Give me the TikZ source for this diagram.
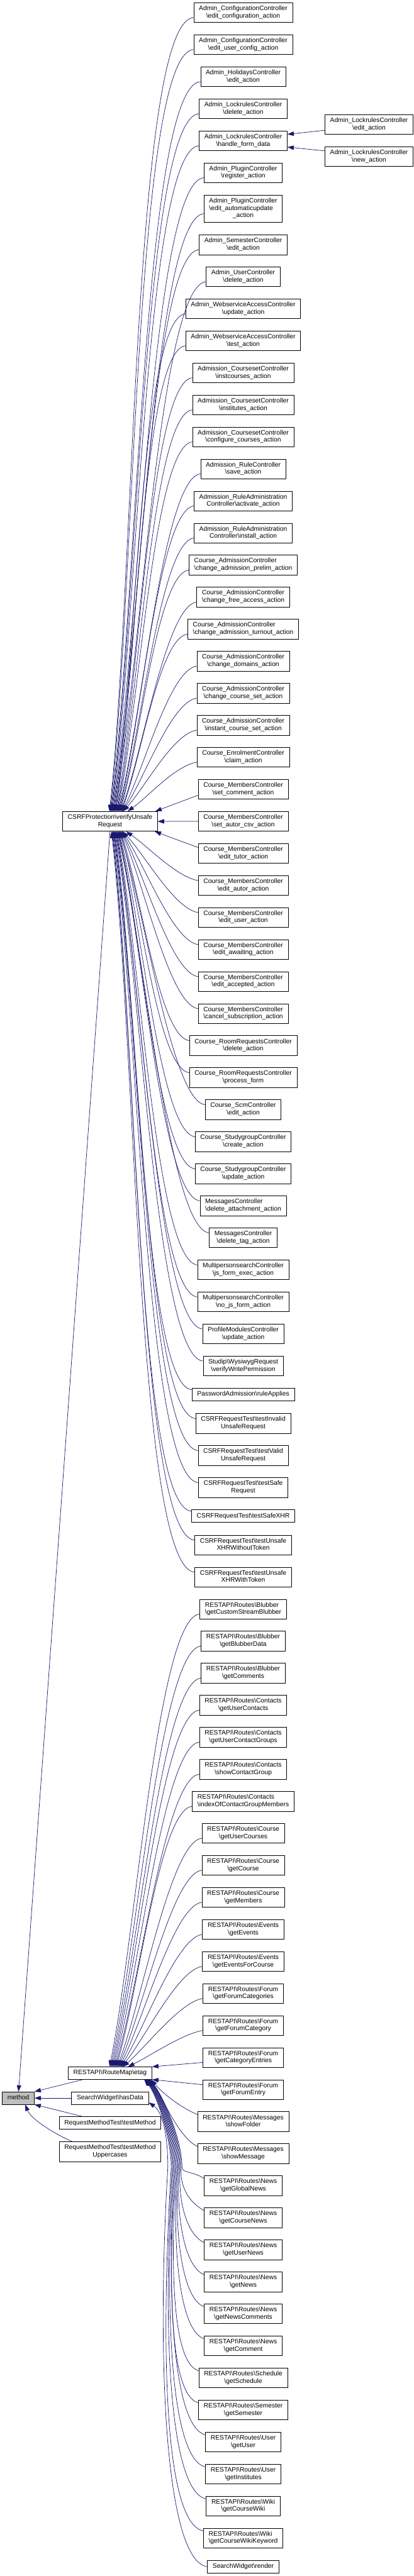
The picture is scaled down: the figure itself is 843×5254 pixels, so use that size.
\documentclass[tikz,border=0pt]{standalone}
\usepackage{fontspec}
\setmainfont{Liberation Sans}
\usetikzlibrary{arrows.meta,calc}
\definecolor{edgecol}{HTML}{191970}
\definecolor{nodegray}{HTML}{BFBFBF}
\newcommand\bs{\textbackslash}
\newcommand\TwoL[2]{\begin{tabular}{@{}l@{}}#1\\\multicolumn{1}{@{}c@{}}{#2}\end{tabular}}
\newcommand\ThreeL[3]{\begin{tabular}{@{}l@{}}#1\\#2\\\multicolumn{1}{@{}c@{}}{#3}\end{tabular}}
\newcommand\OneL[1]{\begin{tabular}{@{}c@{}}#1\end{tabular}}
\newcommand\CsrfUp[2]{%
  \path ($(#1.west)+(0,10)$) coordinate (s) ($(csrf.north west)+(#2,0)$) coordinate (e);
  \draw[conn] (s) .. controls ($(s)!0.05!-90:(s|-e)+(-40,8)$) and ($(e)!0.3!(s)$) .. (e);}
\newcommand\CsrfDown[2]{%
  \path ($(#1.west)+(0,-10)$) coordinate (s) ($(csrf.south west)+(#2,0)$) coordinate (e);
  \draw[conn] (s) .. controls ($(s)!0.05!90:(s|-e)+(-40,-8)$) and ($(e)!0.3!(s)$) .. (e);}
\newcommand\EtagUp[2]{%
  \path ($(#1.west)+(0,10)$) coordinate (s) ($(etag.north west)+(#2,0)$) coordinate (e);
  \draw[conn] (s) .. controls ($(s)!0.05!-90:(s|-e)+(-40,8)$) and ($(e)!0.3!(s)$) .. (e);}
\newcommand\EtagDown[4]{%
  \path ($(#1.north west)+(0,6)$) coordinate (s) ($(etag.south east)+(#2,0)$) coordinate (e)
        ($(etag.south east)+(#3,179)$) coordinate (w);
  \draw[conn] (s) .. controls +({-(20+0.08*#4)},-15) and ($(w)+({-0.03*#4},{0.5*#4})$) .. (w)
        .. controls +(0,-60) and +(25,30) .. (e);}
\begin{document}
\begin{tikzpicture}[x=1pt,y=-1pt,
  nbox/.style={draw=black,line width=0.9pt,fill=white,rectangle,inner xsep=10.5pt,inner ysep=0pt,
     font=\fontsize{13.2}{15}\selectfont},
  nbox1/.style={nbox,minimum height=25.3pt},
  nbox2/.style={nbox,minimum height=40.3pt},
  nbox3/.style={nbox,minimum height=55pt},
  conn/.style={draw=edgecol,line width=0.9pt,-{Triangle[length=13pt,width=9pt]}}]
\useasboundingbox (0,0) rectangle (843,5254);
\fill[white] (0,0) rectangle (843,5254);
% column 3
\node[nbox2] (r0) at (495.8,25.8) {\TwoL{Admin\_ConfigurationController}{\bs edit\_configuration\_action}};
\node[nbox2] (r1) at (495.8,91.0) {\TwoL{Admin\_ConfigurationController}{\bs edit\_user\_config\_action}};
\node[nbox2] (r2) at (495.8,156.5) {\TwoL{Admin\_HolidaysController}{\bs edit\_action}};
\node[nbox2] (r3) at (495.8,221.8) {\TwoL{Admin\_LockrulesController}{\bs delete\_action}};
\node[nbox2] (r4) at (495.8,287.2) {\TwoL{Admin\_LockrulesController}{\bs handle\_form\_data}};
\node[nbox2] (r5) at (495.8,352.5) {\TwoL{Admin\_PluginController}{\bs register\_action}};
\node[nbox3] (r6) at (495.8,425.8) {\ThreeL{Admin\_PluginController}{\bs edit\_automaticupdate}{\_action}};
\node[nbox2] (r7) at (495.8,499.2) {\TwoL{Admin\_SemesterController}{\bs edit\_action}};
\node[nbox2] (r8) at (495.8,564.5) {\TwoL{Admin\_UserController}{\bs delete\_action}};
\node[nbox2] (r9) at (495.8,629.9) {\TwoL{Admin\_WebserviceAccessController}{\bs update\_action}};
\node[nbox2] (r10) at (495.8,695.2) {\TwoL{Admin\_WebserviceAccessController}{\bs test\_action}};
\node[nbox2] (r11) at (495.8,760.5) {\TwoL{Admission\_CoursesetController}{\bs instcourses\_action}};
\node[nbox2] (r12) at (495.8,825.9) {\TwoL{Admission\_CoursesetController}{\bs institutes\_action}};
\node[nbox2] (r13) at (495.8,891.2) {\TwoL{Admission\_CoursesetController}{\bs configure\_courses\_action}};
\node[nbox2] (r14) at (495.8,956.5) {\TwoL{Admission\_RuleController}{\bs save\_action}};
\node[nbox2] (r15) at (495.8,1021.9) {\TwoL{Admission\_RuleAdministration}{Controller\bs activate\_action}};
\node[nbox2] (r16) at (495.8,1087.2) {\TwoL{Admission\_RuleAdministration}{Controller\bs install\_action}};
\node[nbox2] (r17) at (495.8,1152.5) {\TwoL{Course\_AdmissionController}{\bs change\_admission\_prelim\_action}};
\node[nbox2] (r18) at (495.8,1217.9) {\TwoL{Course\_AdmissionController}{\bs change\_free\_access\_action}};
\node[nbox2] (r19) at (495.8,1283.2) {\TwoL{Course\_AdmissionController}{\bs change\_admission\_turnout\_action}};
\node[nbox2] (r20) at (495.8,1348.5) {\TwoL{Course\_AdmissionController}{\bs change\_domains\_action}};
\node[nbox2] (r21) at (495.8,1413.9) {\TwoL{Course\_AdmissionController}{\bs change\_course\_set\_action}};
\node[nbox2] (r22) at (495.8,1479.2) {\TwoL{Course\_AdmissionController}{\bs instant\_course\_set\_action}};
\node[nbox2] (r23) at (495.8,1544.5) {\TwoL{Course\_EnrolmentController}{\bs claim\_action}};
\node[nbox2] (r24) at (495.8,1609.9) {\TwoL{Course\_MembersController}{\bs set\_comment\_action}};
\node[nbox2] (r25) at (495.8,1675.2) {\TwoL{Course\_MembersController}{\bs set\_autor\_csv\_action}};
\node[nbox2] (r26) at (495.8,1740.5) {\TwoL{Course\_MembersController}{\bs edit\_tutor\_action}};
\node[nbox2] (r27) at (495.8,1805.9) {\TwoL{Course\_MembersController}{\bs edit\_autor\_action}};
\node[nbox2] (r28) at (495.8,1871.2) {\TwoL{Course\_MembersController}{\bs edit\_user\_action}};
\node[nbox2] (r29) at (495.8,1936.5) {\TwoL{Course\_MembersController}{\bs edit\_awaiting\_action}};
\node[nbox2] (r30) at (495.8,2001.9) {\TwoL{Course\_MembersController}{\bs edit\_accepted\_action}};
\node[nbox2] (r31) at (495.8,2067.2) {\TwoL{Course\_MembersController}{\bs cancel\_subscription\_action}};
\node[nbox2] (r32) at (495.8,2132.5) {\TwoL{Course\_RoomRequestsController}{\bs delete\_action}};
\node[nbox2] (r33) at (495.8,2197.9) {\TwoL{Course\_RoomRequestsController}{\bs process\_form}};
\node[nbox2] (r34) at (495.8,2263.2) {\TwoL{Course\_ScmController}{\bs edit\_action}};
\node[nbox2] (r35) at (495.8,2328.5) {\TwoL{Course\_StudygroupController}{\bs create\_action}};
\node[nbox2] (r36) at (495.8,2393.9) {\TwoL{Course\_StudygroupController}{\bs update\_action}};
\node[nbox2] (r37) at (495.8,2459.2) {\TwoL{MessagesController}{\bs delete\_attachment\_action}};
\node[nbox2] (r38) at (495.8,2524.5) {\TwoL{MessagesController}{\bs delete\_tag\_action}};
\node[nbox2] (r39) at (495.8,2589.9) {\TwoL{MultipersonsearchController}{\bs js\_form\_exec\_action}};
\node[nbox2] (r40) at (495.8,2655.2) {\TwoL{MultipersonsearchController}{\bs no\_js\_form\_action}};
\node[nbox2] (r41) at (495.8,2720.5) {\TwoL{ProfileModulesController}{\bs update\_action}};
\node[nbox2] (r42) at (495.8,2785.9) {\TwoL{Studip\bs WysiwygRequest}{\bs verifyWritePermission}};
\node[nbox1] (r43) at (495.8,2844.5) {\OneL{PasswordAdmission\bs ruleApplies}};
\node[nbox2] (r44) at (495.8,2903.2) {\TwoL{CSRFRequestTest\bs testInvalid}{UnsafeRequest}};
\node[nbox2] (r45) at (495.8,2968.5) {\TwoL{CSRFRequestTest\bs testValid}{UnsafeRequest}};
\node[nbox2] (r46) at (495.8,3033.9) {\TwoL{CSRFRequestTest\bs testSafe}{Request}};
\node[nbox1] (r47) at (495.8,3092.2) {\OneL{CSRFRequestTest\bs testSafeXHR}};
\node[nbox2] (r48) at (495.8,3151.2) {\TwoL{CSRFRequestTest\bs testUnsafe}{XHRWithoutToken}};
\node[nbox2] (r49) at (495.8,3216.5) {\TwoL{CSRFRequestTest\bs testUnsafe}{XHRWithToken}};
\node[nbox2] (r50) at (495.8,3281.9) {\TwoL{RESTAPI\bs Routes\bs Blubber}{\bs getCustomStreamBlubber}};
\node[nbox2] (r51) at (495.8,3347.2) {\TwoL{RESTAPI\bs Routes\bs Blubber}{\bs getBlubberData}};
\node[nbox2] (r52) at (495.8,3412.5) {\TwoL{RESTAPI\bs Routes\bs Blubber}{\bs getComments}};
\node[nbox2] (r53) at (495.8,3477.9) {\TwoL{RESTAPI\bs Routes\bs Contacts}{\bs getUserContacts}};
\node[nbox2] (r54) at (495.8,3543.2) {\TwoL{RESTAPI\bs Routes\bs Contacts}{\bs getUserContactGroups}};
\node[nbox2] (r55) at (495.8,3608.5) {\TwoL{RESTAPI\bs Routes\bs Contacts}{\bs showContactGroup}};
\node[nbox2] (r56) at (495.8,3673.9) {\TwoL{RESTAPI\bs Routes\bs Contacts}{\bs indexOfContactGroupMembers}};
\node[nbox2] (r57) at (495.8,3739.2) {\TwoL{RESTAPI\bs Routes\bs Course}{\bs getUserCourses}};
\node[nbox2] (r58) at (495.8,3804.5) {\TwoL{RESTAPI\bs Routes\bs Course}{\bs getCourse}};
\node[nbox2] (r59) at (495.8,3869.9) {\TwoL{RESTAPI\bs Routes\bs Course}{\bs getMembers}};
\node[nbox2] (r60) at (495.8,3935.2) {\TwoL{RESTAPI\bs Routes\bs Events}{\bs getEvents}};
\node[nbox2] (r61) at (495.8,4000.5) {\TwoL{RESTAPI\bs Routes\bs Events}{\bs getEventsForCourse}};
\node[nbox2] (r62) at (495.8,4065.9) {\TwoL{RESTAPI\bs Routes\bs Forum}{\bs getForumCategories}};
\node[nbox2] (r63) at (495.8,4131.2) {\TwoL{RESTAPI\bs Routes\bs Forum}{\bs getForumCategory}};
\node[nbox2] (r64) at (495.8,4196.5) {\TwoL{RESTAPI\bs Routes\bs Forum}{\bs getCategoryEntries}};
\node[nbox2] (r65) at (495.8,4261.9) {\TwoL{RESTAPI\bs Routes\bs Forum}{\bs getForumEntry}};
\node[nbox2] (r66) at (495.8,4327.2) {\TwoL{RESTAPI\bs Routes\bs Messages}{\bs showFolder}};
\node[nbox2] (r67) at (495.8,4392.5) {\TwoL{RESTAPI\bs Routes\bs Messages}{\bs showMessage}};
\node[nbox2] (r68) at (495.8,4457.9) {\TwoL{RESTAPI\bs Routes\bs News}{\bs getGlobalNews}};
\node[nbox2] (r69) at (495.8,4523.2) {\TwoL{RESTAPI\bs Routes\bs News}{\bs getCourseNews}};
\node[nbox2] (r70) at (495.8,4588.5) {\TwoL{RESTAPI\bs Routes\bs News}{\bs getUserNews}};
\node[nbox2] (r71) at (495.8,4653.9) {\TwoL{RESTAPI\bs Routes\bs News}{\bs getNews}};
\node[nbox2] (r72) at (495.8,4719.2) {\TwoL{RESTAPI\bs Routes\bs News}{\bs getNewsComments}};
\node[nbox2] (r73) at (495.8,4784.5) {\TwoL{RESTAPI\bs Routes\bs News}{\bs getComment}};
\node[nbox2] (r74) at (495.8,4849.9) {\TwoL{RESTAPI\bs Routes\bs Schedule}{\bs getSchedule}};
\node[nbox2] (r75) at (495.8,4915.2) {\TwoL{RESTAPI\bs Routes\bs Semester}{\bs getSemester}};
\node[nbox2] (r76) at (495.8,4980.5) {\TwoL{RESTAPI\bs Routes\bs User}{\bs getUser}};
\node[nbox2] (r77) at (495.8,5045.9) {\TwoL{RESTAPI\bs Routes\bs User}{\bs getInstitutes}};
\node[nbox2] (r78) at (495.8,5111.2) {\TwoL{RESTAPI\bs Routes\bs Wiki}{\bs getCourseWiki}};
\node[nbox2] (r79) at (495.8,5176.5) {\TwoL{RESTAPI\bs Routes\bs Wiki}{\bs getCourseWikiKeyword}};
\node[nbox1] (r80) at (495.8,5235.0) {\OneL{SearchWidget\bs render}};
% column 4
\node[nbox2] (e1) at (752.2,254.0) {\TwoL{Admin\_LockrulesController}{\bs edit\_action}};
\node[nbox2] (e2) at (752.2,319.3) {\TwoL{Admin\_LockrulesController}{\bs new\_action}};
% column 2
\node[nbox2] (csrf) at (224.4,1675.3) {\TwoL{CSRFProtection\bs verifyUnsafe}{Request}};
\node[nbox1] (etag) at (224.4,4228.3) {\OneL{RESTAPI\bs RouteMap\bs etag}};
\node[nbox1] (hasdata) at (224.4,4279.2) {\OneL{SearchWidget\bs hasData}};
\node[nbox1] (testm) at (224.4,4330.0) {\OneL{RequestMethodTest\bs testMethod}};
\node[nbox2] (testmu) at (224.4,4388.5) {\TwoL{RequestMethodTest\bs testMethod}{Uppercases}};
% column 1
\node[nbox1,fill=nodegray] (method) at (37.3,4279.2) {\OneL{method}};

% edges into csrf
\foreach \i [evaluate=\i as \dx using 96+1.27*\i] in {0,...,22} {\CsrfUp{r\i}{\dx}}
\CsrfUp{r23}{133}
\draw[conn] ($(r24.west)+(0,12)$) -- ($(csrf.north east)+(-5,0)$);
\draw[conn] (r25.west) -- (csrf.east);
\draw[conn] ($(r26.west)+(0,-12)$) -- ($(csrf.south east)+(-6,0)$);
\CsrfDown{r27}{130}
\foreach \i [evaluate=\i as \dx using 123-(\i-28)*23/21] in {28,...,49} {\CsrfDown{r\i}{\dx}}

% edges into etag
\foreach \i [evaluate=\i as \dx using 84.7+2.25*(\i-50)] in {50,...,62} {\EtagUp{r\i}{\dx}}
\EtagUp{r63}{122.2}
\draw[conn] ($(r64.west)+(0,10)$) -- (etag.north east);
\draw[conn] ($(r65.west)+(0,-10)$) -- (etag.south east);
\path ($(r66.north west)+(0,6)$) coordinate (s) ($(etag.south east)+(-2,0)$) coordinate (e);
\draw[conn] (s) .. controls +(-30,-12) and +(25,30) .. (e);
\path ($(r67.north west)+(0,6)$) coordinate (s) ($(etag.south east)+(-4,0)$) coordinate (e);
\draw[conn] (s) .. controls +(-40,-20) and +(25,35) .. (e);
\foreach \i [evaluate=\i as \dy using 3151.2+65.333*(\i-48)-4434.2,
             evaluate=\i as \ex using -4-(\i-67),
             evaluate=\i as \wx using 61-2*(\i-68)] in {68,...,79} {\EtagDown{r\i}{\ex}{\wx}{\dy}}

% render -> hasData
\path (r80.west) coordinate (s) ($(hasdata.east)+(0,8.8)$) coordinate (e)
      ($(hasdata.east)+(39,140.8)$) coordinate (w);
\draw[conn] (s) .. controls +(-85,-12) and ($(w)+(-24,400)$) .. (w)
      .. controls +(0,-50) and +(32,22) .. (e);

% column 4 -> handle_form_data
\draw[conn] ($(e1.west)+(0,11.7)$) -- ($(r4.east)+(0,-13.2)$);
\draw[conn] ($(e2.west)+(0,-11.6)$) -- ($(r4.east)+(0,12.8)$);

% into method
\draw[conn] ($(csrf.south west)+(97,0)$) -- ($(method.north)+(0.5,0)$);
\draw[conn] ($(etag.south west)+(30.3,0)$) -- (method.north east);
\draw[conn] (hasdata.west) -- (method.east);
\draw[conn] ($(testm.north west)+(48.7,0)$) -- (method.south east);
\draw[conn] ($(testmu.north west)+(27,0)$) .. controls +(-35,-15) and +(12,30) .. ($(method.south)+(14,0)$);
\end{tikzpicture}
\end{document}
